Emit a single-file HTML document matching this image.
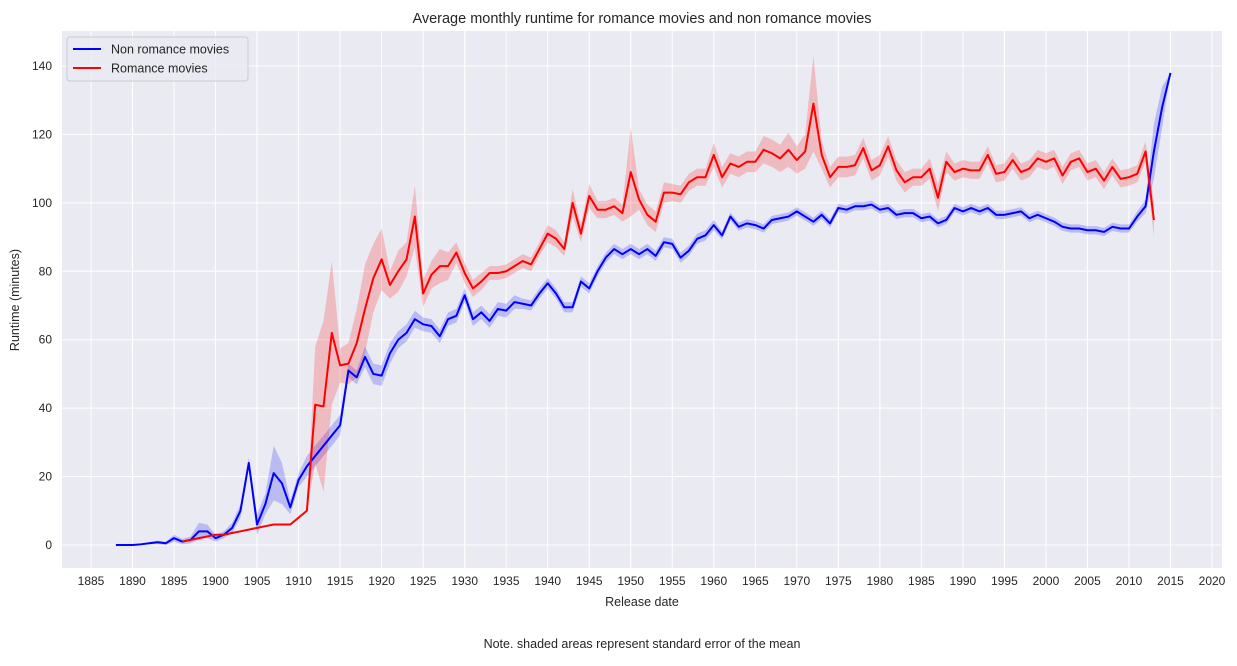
<!DOCTYPE html>
<html><head><meta charset="utf-8"><style>
body{margin:0;background:#fff;font-family:"Liberation Sans",Arial,sans-serif}
svg text{font-family:"Liberation Sans",Arial,sans-serif;fill:#262626}
</style></head><body>
<svg id="chart" width="1237" height="661"></svg>
<script>
const years=[];for(let y=1888;y<=2015;y++)years.push(y);
const nonRomance=[0,0,0,0.2,0.5,0.8,0.5,2,1,1.5,4,4,2,3,5,10,24,6,12,21,18,11,19,23,26,29,32,35,51,49,55,50,49.5,56,60,62,66,64.5,64,61,66,67,73,66,68,65.5,69,68.5,71,70.5,70,73.5,76.5,73.5,69.5,69.5,77,75,80,84,86.5,85,86.5,85,86.5,84.5,88.5,88,84,86,89.5,90.5,93.5,90.5,96,93,94,93.5,92.5,95,95.5,96,97.5,96,94.5,96.5,94,98.5,98,99,99,99.5,98,98.5,96.5,97,97,95.5,96,94,95,98.5,97.5,98.5,97.5,98.5,96.5,96.5,97,97.5,95.5,96.5,95.5,94.5,93,92.5,92.5,92,92,91.5,93,92.5,92.5,96,99,115,128,138];
const nonRomanceErr=[
0,0,0,0.2,0.3,0.5,0.5,1,0.8,1,
2.5,2,1,1,1.5,2,1.5,3,3,8,
6,2,2,3,3,3,3,3,
2,2,3,3,3,3,2.5,2.5,2.5,2,
2,2,2,2,2,2,2,2,2,2,2,1.5,1.5,1.5,1.5,
1.5,1.5,1.5,1.5,1.5,1.5,1.5,1.5,1.5,1.5,
1.5,1.5,1.5,1.5,1.5,1.5,1.5,1.5,1.5,1.5,
1.2,1.2,1.2,1.2,1.2,1.2,1.2,1.2,1.2,1.2,
1.2,1.2,1.2,1.2,1.2,1.2,1.2,1.2,1.2,1.2,
1.2,1.2,1.2,1.2,1.2,1.2,1.2,1.2,1.2,1.2,
1.2,1.2,1.2,1.2,1.2,1.2,1.2,1.2,1.2,1.2,
1.2,1.2,1.2,1.2,1.2,1.2,1.2,1.2,1.2,1.2,
1.5,2,8,6,0];
const romanceYears=[];for(let y=1896;y<=2013;y++)romanceYears.push(y);
const romance=[1,1.5,2,2.5,3,3,3.5,4,4.5,5,5.5,6,6,6,8,10,41,40.5,62,52.5,53,59,69,78,83.5,76,80,83.5,96,73.5,79,81.5,81.5,85.5,79.5,75,77,79.5,79.5,80,81.5,83,82,86.5,91,89.5,86.5,100,91,102,98,98,99,97,109,101,96.5,94.5,103,103,102.5,106,107.5,107.5,114,107.5,111.5,110.5,112,112,115.5,114.5,113,115.5,112.5,115,129,114,107.5,110.5,110.5,111,116,109.5,111,116.5,109.5,106,107.5,107.5,110,101.5,112,109,110,109.5,109.5,114,108.5,109,112.5,109,110,113,112,113,108,112,113,109,110,106.5,110.5,107,107.5,108.5,115,95];
const romanceErr=[0,0,0,0,0,0,0,0,0,0,0,0,0,0,0,0,17,25,21,5,6,10,13,10,9,4,6,5,9,4,4,5,4,3,3,2.5,2.5,2,2,2,2,2,2,2,2.5,2.5,2,4,2.5,3.5,2.5,2.5,2.5,2.5,13,3,3,3,3,2.5,2.5,2.5,2.5,2.5,3.5,3,3,3,3,3,4,4,4,5,4,5,14,4,3,3,3,3,3,3,3,3,3,3,2.5,2.5,3,4,3,2.5,2.5,2.5,2.5,2.5,2.5,2.5,2.5,2.5,2.5,2.5,2.5,2.5,2.5,2.5,2.5,2.5,2.5,2.5,2.5,2.5,2.5,2.5,3,5];
const xTicks=[];for(let y=1885;y<=2020;y+=5)xTicks.push(y);
const yTicks=[0,20,40,60,80,100,120,140];

const L=62,R=1222,T=31,B=568;
const X=v=>91+(v-1885)*(1212-91)/135;
const Y=v=>545-v*(545-66)/140;
const svg=document.getElementById('chart');
const NS='http://www.w3.org/2000/svg';
function mk(tag,attrs,parent){const e=document.createElementNS(NS,tag);for(const k in attrs)e.setAttribute(k,attrs[k]);(parent||svg).appendChild(e);return e;}

const bg=mk('rect',{x:L,y:T,width:R-L,height:B-T,fill:'#eaeaf2'});



xTicks.forEach(t=>{
  const g=mk('line',{x1:X(t),x2:X(t),y1:T,y2:B,stroke:'#fff','stroke-width':1});
  
  
  const tx=mk('text',{x:X(t),y:585,'text-anchor':'middle','font-size':12});
  tx.textContent=t;
  
  
});
yTicks.forEach(t=>{
  const g=mk('line',{x1:L,x2:R,y1:Y(t),y2:Y(t),stroke:'#fff','stroke-width':1});
  
  
  const tx=mk('text',{x:52,y:Y(t)+4,'text-anchor':'end','font-size':12});
  tx.textContent=t;
  
  
});

function band(xs,vals,errs,color,name){
  let d='';
  xs.forEach((x,i)=>{d+=(i?'L':'M')+X(x)+','+Y(vals[i]+(errs[i]||0));});
  for(let i=xs.length-1;i>=0;i--)d+='L'+X(xs[i])+','+Y(vals[i]-(errs[i]||0));
  const p=mk('path',{d:d+'Z',fill:color,'fill-opacity':0.2,stroke:'none'});
  
  
}
function line(xs,vals,color,name){
  const d=xs.map((x,i)=>(i?'L':'M')+X(x)+','+Y(vals[i])).join('');
  const p=mk('path',{d:d,fill:'none',stroke:color,'stroke-width':2,'stroke-linejoin':'round'});
  
  
}
band(years,nonRomance,nonRomanceErr,'#0000ff','non-romance-error-band');
band(romanceYears,romance,romanceErr,'#ff0000','romance-error-band');
line(years,nonRomance,'#0000ff','non-romance-line');
line(romanceYears,romance,'#ff0000','romance-line');

const title=mk('text',{x:642,y:23,'text-anchor':'middle','font-size':14.5});
title.textContent='Average monthly runtime for romance movies and non romance movies';


const xl=mk('text',{x:642,y:606,'text-anchor':'middle','font-size':12.5});
xl.textContent='Release date';


const yl=mk('text',{x:19,y:300,'text-anchor':'middle','font-size':12.5,transform:'rotate(-90 19 300)'});
yl.textContent='Runtime (minutes)';


const note=mk('text',{x:642,y:648,'text-anchor':'middle','font-size':12.5});
note.textContent='Note. shaded areas represent standard error of the mean';



const lg=mk('g',{});


mk('rect',{x:67,y:37,width:181,height:44,rx:3,fill:'#eaeaf2','fill-opacity':0.8,stroke:'#ccc'},lg);
[['Non romance movies','#0000ff',49],['Romance movies','#ff0000',68]].forEach(([lab,c,y])=>{
  const e=mk('g',{},lg);
  
  
  mk('line',{x1:73,x2:101,y1:y,y2:y,stroke:c,'stroke-width':2},e);
  const t=mk('text',{x:111,y:y+4.5,'font-size':12.5},e);
  t.textContent=lab;
});
</script>
</body></html>
